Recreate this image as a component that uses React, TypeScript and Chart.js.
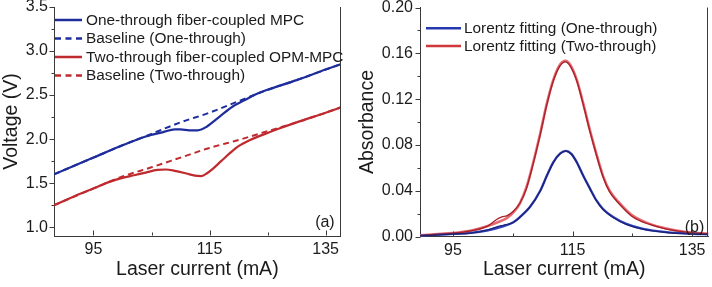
import React, { useEffect, useRef } from "react";
import { Chart, registerables } from "chart.js";

Chart.register(...registerables);

const FONT = 'Arial, "Liberation Sans", sans-serif';
const INK = "#1b1b1b";
const AXIS = "#3a3a3a";
const BLUE = "#1f2d9c";
const RED = "#bf2a2e";

// ---------- Panel (a): voltage vs laser current ----------
const aOneX = [88.2, 95, 100, 104, 107, 109, 110, 111.5, 113, 114.5, 115.5, 117, 119, 121, 123, 125, 130, 135, 137.6];
const aOneY = [1.6, 1.79, 1.93, 2.03, 2.08, 2.11, 2.11, 2.1, 2.1, 2.14, 2.19, 2.27, 2.37, 2.44, 2.51, 2.56, 2.67, 2.79, 2.85];
const aOneBaseX = [88.2, 95, 100, 105, 110, 115, 120, 125, 130, 135, 137.6];
const aOneBaseY = [1.6, 1.79, 1.93, 2.06, 2.19, 2.3, 2.43, 2.56, 2.67, 2.79, 2.85];
const aTwoX = [88.2, 92, 95, 98, 100, 102, 104, 106, 107.5, 109, 111, 112.5, 113.5, 114.5, 115.5, 117, 118.5, 120, 122, 125, 127, 130, 135, 137.6];
const aTwoY = [1.25, 1.36, 1.44, 1.52, 1.56, 1.59, 1.62, 1.65, 1.655, 1.64, 1.61, 1.585, 1.58, 1.61, 1.66, 1.75, 1.84, 1.92, 1.99, 2.07, 2.12, 2.19, 2.3, 2.36];
const aTwoBaseX = [88.2, 95, 100, 105, 110, 115, 120, 125, 130, 135, 137.6];
const aTwoBaseY = [1.25, 1.44, 1.575, 1.68, 1.79, 1.9, 1.99, 2.09, 2.19, 2.3, 2.36];

const aXTicks = [95, 105, 115, 125, 135];
const aXLabels = ["95", "", "115", "", "135"];
const aYTicks = [1.0, 1.25, 1.5, 1.75, 2.0, 2.25, 2.5, 2.75, 3.0, 3.25, 3.5];
const aYLabels = ["1.0", "", "1.5", "", "2.0", "", "2.5", "", "3.0", "", "3.5"];
const aLegend = [
  "One-through fiber-coupled MPC",
  "Baseline (One-through)",
  "Two-through fiber-coupled OPM-MPC",
  "Baseline (Two-through)",
];

// ---------- Panel (b): absorbance vs laser current ----------
const bOneFitX = [89.5, 92, 95, 98, 100.7, 103.4, 105.1, 106.2, 107.9, 109.6, 110.7, 111.8, 112.9, 113.9, 114.8, 115.7, 116.8, 117.9, 119, 120.1, 121.8, 124, 126.8, 130.7, 135.1, 137.7];
const bOneFitY = [0.0006, 0.0014, 0.0023, 0.0032, 0.0052, 0.0088, 0.0125, 0.017, 0.026, 0.04, 0.053, 0.065, 0.0724, 0.0748, 0.0722, 0.065, 0.053, 0.042, 0.0315, 0.024, 0.017, 0.011, 0.0067, 0.0038, 0.0024, 0.002];
const bOneDataX = [89.5, 92, 95, 98, 100.7, 102.6, 103.4, 105.1, 106.2, 107.9, 109.6, 110.7, 111.8, 112.9, 113.9, 114.8, 115.7, 116.8, 117.9, 119, 120.1, 121.8, 124, 126.8, 130.7, 135.1, 137.7];
const bOneDataY = [0.0004, 0.0012, 0.0022, 0.003, 0.0055, 0.0088, 0.0098, 0.0122, 0.0168, 0.0258, 0.0398, 0.0528, 0.0648, 0.0722, 0.0746, 0.072, 0.0648, 0.0528, 0.0418, 0.0312, 0.0236, 0.0166, 0.0106, 0.0064, 0.0035, 0.0022, 0.0018];
const bTwoFitX = [89.5, 92, 95, 97.9, 100.7, 102.3, 104, 105.1, 106.2, 107.3, 108.4, 109.6, 110.7, 111.8, 112.9, 113.8, 114.6, 115.7, 116.8, 117.9, 119, 120.1, 121.2, 122.9, 125.1, 127.9, 130.7, 134, 137.7];
const bTwoFitY = [0.001, 0.002, 0.003, 0.005, 0.009, 0.012, 0.016, 0.021, 0.029, 0.043, 0.064, 0.09, 0.116, 0.137, 0.15, 0.1535, 0.15, 0.137, 0.116, 0.093, 0.072, 0.053, 0.04, 0.029, 0.018, 0.011, 0.007, 0.004, 0.0024];
const bTwoDataX = [89.5, 92, 95, 97.9, 100.7, 102.3, 103.2, 104, 105.1, 106.2, 107.3, 108.4, 109.6, 110.7, 111.8, 112.9, 113.8, 114.6, 115.7, 116.8, 117.9, 119, 120.1, 121.2, 122.9, 125.1, 127.9, 130.7, 134, 137.7];
const bTwoDataY = [0.0008, 0.0018, 0.0028, 0.0048, 0.0088, 0.0148, 0.0172, 0.018, 0.022, 0.029, 0.042, 0.063, 0.089, 0.115, 0.136, 0.149, 0.1525, 0.149, 0.136, 0.115, 0.092, 0.071, 0.052, 0.039, 0.028, 0.017, 0.0105, 0.0065, 0.0038, 0.0022];

const bXTicks = [95, 105, 115, 125, 135];
const bXLabels = ["95", "", "115", "", "135"];
const bYTicks = [0, 0.02, 0.04, 0.06, 0.08, 0.1, 0.12, 0.14, 0.16, 0.18, 0.2];
const bYLabels = ["0.00", "", "0.04", "", "0.08", "", "0.12", "", "0.16", "", "0.20"];
const bLegend = ["Lorentz fitting (One-through)", "Lorentz fitting (Two-through)"];

const pts = (xs: number[], ys: number[]) => xs.map((x, i) => ({ x, y: ys[i] }));

const decorPlugin = {
  id: "decor",
  afterDraw(chart: any, _args: any, opts: any) {
    const { ctx, chartArea: ca, scales } = chart;
    ctx.save();
    ctx.strokeStyle = AXIS;
    ctx.lineWidth = 1;
    // right frame line
    const rx = Math.round(ca.right) - 0.5;
    ctx.beginPath();
    ctx.moveTo(rx, ca.top);
    ctx.lineTo(rx, ca.bottom);
    ctx.stroke();
    // x ticks (inward)
    const bottom = Math.round(ca.bottom) - 0.5;
    for (const t of scales.x.ticks) {
      const px = Math.round(scales.x.getPixelForValue(t.value)) + 0.5;
      const len = t.label ? 5 : 3;
      ctx.beginPath();
      ctx.moveTo(px, bottom);
      ctx.lineTo(px, bottom - len);
      ctx.stroke();
    }
    // y ticks (outward)
    const left = Math.round(ca.left) + 0.5;
    for (const t of scales.y.ticks) {
      const py = Math.round(scales.y.getPixelForValue(t.value)) + 0.5;
      const len = t.label ? 5 : 3;
      ctx.beginPath();
      ctx.moveTo(left, py);
      ctx.lineTo(left - len, py);
      ctx.stroke();
    }
    // legend
    ctx.font = `15.4px ${FONT}`;
    ctx.textBaseline = "middle";
    ctx.textAlign = "left";
    opts.items.forEach((it: any, i: number) => {
      const y = opts.ys[i];
      ctx.strokeStyle = it.color;
      ctx.lineWidth = 2.5;
      ctx.setLineDash(it.dash);
      ctx.beginPath();
      ctx.moveTo(opts.x0, y);
      ctx.lineTo(opts.x1, y);
      ctx.stroke();
      ctx.setLineDash([]);
      ctx.fillStyle = INK;
      ctx.fillText(it.text, opts.tx, y + 0.5);
    });
    // panel tag
    ctx.font = `16px ${FONT}`;
    ctx.textAlign = "right";
    ctx.fillStyle = INK;
    ctx.fillText(opts.tag, ca.right - opts.tagDx, ca.bottom - opts.tagDy);
    ctx.restore();
  },
};

function makeScales(p: any) {
  return {
    x: {
      type: "linear",
      min: p.xMin,
      max: p.xMax,
      afterBuildTicks: (s: any) => {
        s.ticks = p.xTicks.map((v: number) => ({ value: v }));
      },
      afterFit: (s: any) => {
        s.height = p.xHeight;
        s.paddingLeft = 0;
        s.paddingRight = 0;
      },
      ticks: {
        autoSkip: false,
        maxRotation: 0,
        padding: 4,
        color: INK,
        font: { family: FONT, size: 16 },
        callback: (_v: any, i: number) => p.xLabels[i],
      },
      grid: { display: false, drawTicks: false },
      border: { display: true, color: AXIS, width: 1 },
      title: {
        display: true,
        text: "Laser current (mA)",
        color: INK,
        font: { family: FONT, size: 19.5 },
        padding: { top: 0, bottom: 6 },
      },
    },
    y: {
      type: "linear",
      min: p.yMin,
      max: p.yMax,
      afterBuildTicks: (s: any) => {
        s.ticks = p.yTicks.map((v: number) => ({ value: v }));
      },
      afterFit: (s: any) => {
        s.width = p.yWidth;
        s.paddingTop = 0;
        s.paddingBottom = 0;
      },
      ticks: {
        autoSkip: false,
        padding: p.yPad,
        color: INK,
        font: { family: FONT, size: 16 },
        callback: (_v: any, i: number) => p.yLabels[i],
      },
      grid: { display: false, drawTicks: false },
      border: { display: true, color: AXIS, width: 1 },
      title: {
        display: true,
        text: p.yTitle,
        color: INK,
        font: { family: FONT, size: 19.5 },
        padding: { top: 0, bottom: 0 },
      },
    },
  };
}

function line(data: any, color: string, width: number, dash: number[] = []) {
  return {
    data,
    borderColor: color,
    backgroundColor: color,
    borderWidth: width,
    borderDash: dash,
    pointRadius: 0,
    fill: false,
    cubicInterpolationMode: "monotone",
  };
}

function PanelA() {
  const ref = useRef<HTMLCanvasElement>(null);
  useEffect(() => {
    const chart = new Chart(ref.current as HTMLCanvasElement, {
      type: "line",
      data: {
        datasets: [
          line(pts(aOneX, aOneY), BLUE, 2.2),
          line(pts(aTwoX, aTwoY), RED, 2.2),
          line(pts(aOneBaseX, aOneBaseY), BLUE, 2, [6, 4]),
          line(pts(aTwoBaseX, aTwoBaseY), RED, 2, [6, 4]),
        ],
      } as any,
      options: {
        responsive: false,
        animation: false,
        layout: { padding: { left: 0, top: 7, right: 15.3, bottom: 0 } },
        scales: makeScales({
          xMin: 88.2, xMax: 137.6, xTicks: aXTicks, xLabels: aXLabels, xHeight: 51,
          yMin: 0.9, yMax: 3.5, yTicks: aYTicks, yLabels: aYLabels, yWidth: 54, yPad: 6,
          yTitle: "Voltage (V)",
        }) as any,
        plugins: {
          legend: { display: false },
          tooltip: { enabled: false },
          decor: {
            items: [
              { text: aLegend[0], color: BLUE, dash: [] },
              { text: aLegend[1], color: BLUE, dash: [6, 4.5] },
              { text: aLegend[2], color: RED, dash: [] },
              { text: aLegend[3], color: RED, dash: [6, 4.5] },
            ],
            x0: 55, x1: 82, tx: 86, ys: [20, 38.5, 57, 75.5],
            tag: "(a)", tagDx: 6, tagDy: 13,
          },
        } as any,
      },
      plugins: [decorPlugin],
    });
    return () => chart.destroy();
  }, []);
  return <canvas ref={ref} width={356} height={287} />;
}

function PanelB() {
  const ref = useRef<HTMLCanvasElement>(null);
  useEffect(() => {
    const chart = new Chart(ref.current as HTMLCanvasElement, {
      type: "line",
      data: {
        datasets: [
          line(pts(bOneDataX, bOneDataY), "#1b2175", 1.3),
          line(pts(bTwoDataX, bTwoDataY), "#a82028", 1.3),
          line(pts(bOneFitX, bOneFitY), "#3646c0", 2.4),
          line(pts(bTwoFitX, bTwoFitY), "#e36a70", 2.6),
        ],
      } as any,
      options: {
        responsive: false,
        animation: false,
        layout: { padding: { left: 0, top: 7.5, right: 3.7, bottom: 0 } },
        scales: makeScales({
          xMin: 89.5, xMax: 137.7, xTicks: bXTicks, xLabels: bXLabels, xHeight: 50.5,
          yMin: 0, yMax: 0.2, yTicks: bYTicks, yLabels: bYLabels, yWidth: 64, yPad: 7,
          yTitle: "Absorbance",
        }) as any,
        plugins: {
          legend: { display: false },
          tooltip: { enabled: false },
          decor: {
            items: [
              { text: bLegend[0], color: "#2438b0", dash: [] },
              { text: bLegend[1], color: "#d0383c", dash: [] },
            ],
            x0: 70, x1: 105, tx: 108, ys: [28.3, 46],
            tag: "(b)", tagDx: 4, tagDy: 9,
          },
        } as any,
      },
      plugins: [decorPlugin],
    });
    return () => chart.destroy();
  }, []);
  return <canvas ref={ref} width={356} height={287} />;
}

export default function App() {
  return (
    <div style={{ position: "absolute", left: 0, top: 0, width: 712, height: 287, background: "#fff" }}>
      <div style={{ position: "absolute", left: 0, top: 0 }}>
        <PanelA />
      </div>
      <div style={{ position: "absolute", left: 356, top: 0 }}>
        <PanelB />
      </div>
    </div>
  );
}
